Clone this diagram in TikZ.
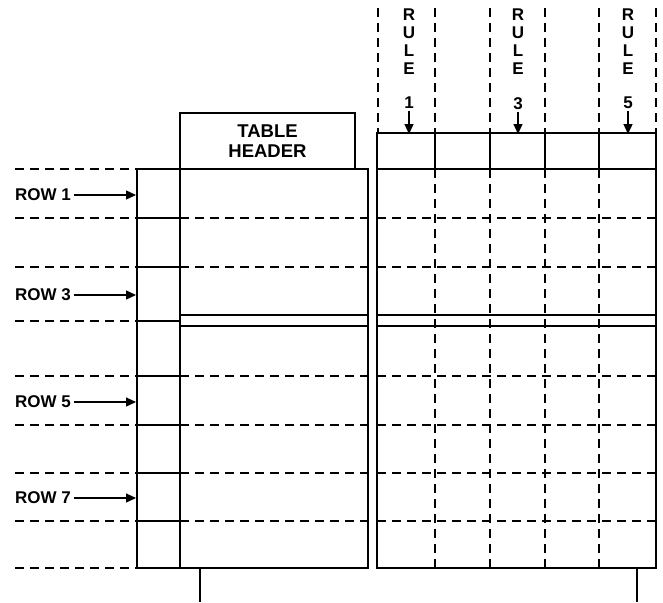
\documentclass[tikz,border=0pt]{standalone}
\usepackage{fontspec}
\setmainfont{Liberation Sans}
\usetikzlibrary{arrows.meta, positioning}

\begin{document}
\begin{tikzpicture}[
    x=1pt, y=-1pt,
    every node/.style = {font=\bfseries\fontsize{17}{18}\selectfont, inner sep=0pt},
    frame/.style      = {line width=2pt},
    guide/.style      = {line width=1.4pt, dash pattern=on 9pt off 6pt},
    arr/.style        = {-{Triangle[length=10pt, width=9pt]}, line width=1.3pt},
]
\useasboundingbox (0,0) rectangle (663,602);

% Guide lines left of the stub column
\foreach \y in {169,218,267,321,376,425,473,521,568}{
  \draw[guide] (15,\y) -- (137,\y);
  \draw[frame] (137,\y) -- (180,\y);
}

% Row lines inside both tables
\foreach \y in {218,267,376,425,473,521}{
  \draw[guide] (180,\y) -- (368,\y);
  \draw[guide] (377,\y) -- (656,\y);
}

% Rule lines
\foreach \x in {378,435,490,545,599,656}
  \draw[guide] (\x,8) -- (\x,133);
\foreach \x in {435,490,545,599}
  \draw[guide] (\x,169) -- (\x,568);

% Stub column and left table
\draw[frame] (137,169) rectangle (180,568);
\draw[frame] (180,169) rectangle (368,568);
\draw[frame] (180,315) -- (368,315) (180,326) -- (368,326);

% Right table
\draw[frame] (377,133) rectangle (656,568);
\draw[frame] (377,169) -- (656,169);
\foreach \x in {435,490,545,599} \draw[frame] (\x,133) -- (\x,169);
\draw[frame] (377,315) -- (656,315) (377,326) -- (656,326);

% Bottom stubs
\draw[frame] (200,568) -- (200,602);
\draw[frame] (637,568) -- (637,602);

% Header box
\node[draw, frame, outer sep=0pt, minimum width=175pt, minimum height=56pt,
      align=center, anchor=south west, font=\bfseries\fontsize{18.5}{20}\selectfont]
      (head) at (180,169) {TABLE\\HEADER};

% Rule labels
\foreach \n/\x in {1/409,3/518,5/628}{
  \node[align=center, anchor=north] (rule\n) at (\x,9) {R\\U\\L\\E};
  \node[below=22pt of rule\n.south] (num\n) {\n};
  \coordinate (tip\n) at (\x,134);
  \draw[arr, shorten <=2pt] (num\n) -- (tip\n);
}

% Row labels
\foreach \n/\y in {1/195,3/295,5/402,7/498}{
  \node[anchor=west] (row\n) at (15,\y) {ROW \n};
  \coordinate (end\n) at (136,\y);
  \draw[arr, shorten <=3pt] (row\n) -- (end\n);
}

\end{tikzpicture}
\end{document}
